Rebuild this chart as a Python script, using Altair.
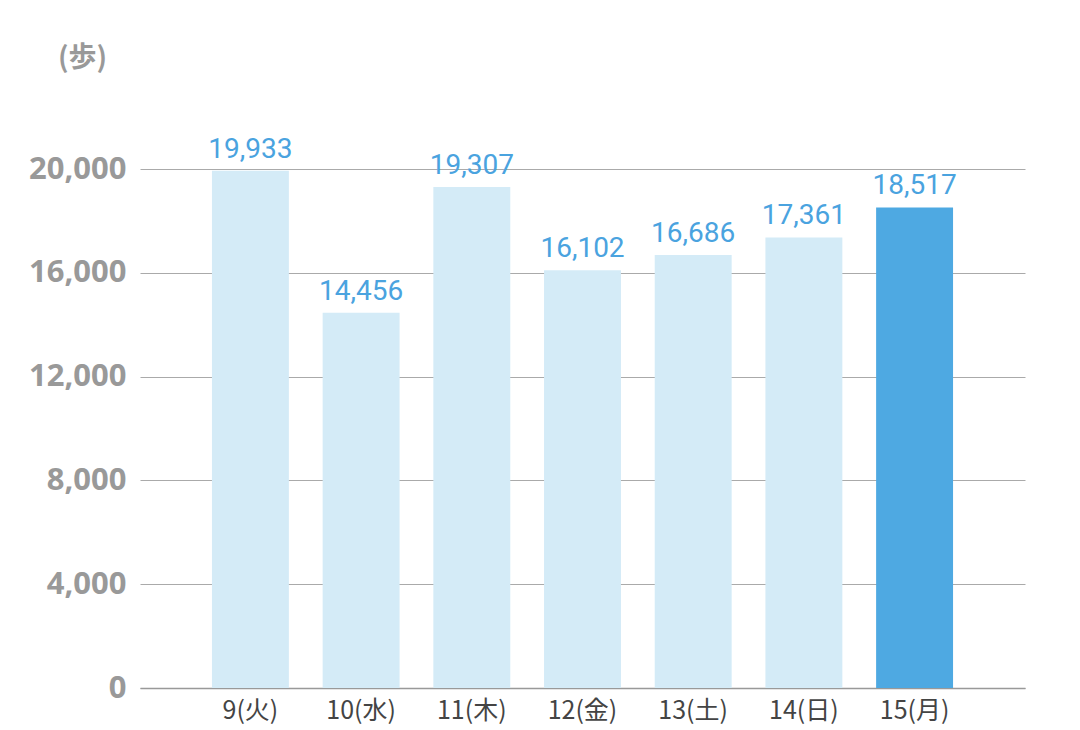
import altair as alt
import pandas as pd

days = ["9(火)", "10(水)", "11(木)", "12(金)", "13(土)", "14(日)", "15(月)"]
steps = [19933, 14456, 19307, 16102, 16686, 17361, 18517]
highlight = [False, False, False, False, False, False, True]

df = pd.DataFrame({"day": days, "steps": steps, "hl": highlight})
df["label"] = df["steps"].map(lambda v: f"{v:,}")

x = alt.X("day:N", sort=days, title=None,
          scale=alt.Scale(paddingInner=0.305, paddingOuter=0.65),
          axis=alt.Axis(labelAngle=0, labelFont="Noto Sans CJK JP", labelFontSize=25,
                        labelColor="#444444", labelPadding=10, ticks=False,
                        domainColor="#999999", domainWidth=1.5))
y = alt.Y("steps:Q", scale=alt.Scale(domain=[0, 20000]),
          axis=alt.Axis(values=[0, 4000, 8000, 12000, 16000, 20000], format=",.0f",
                        labelFont="Noto Sans", labelFontWeight="bold", labelFontSize=31,
                        labelColor="#999999", labelPadding=14, ticks=False, domain=False,
                        gridColor="#aaaaaa", gridWidth=1,
                        title="(歩)", titleAngle=0, titleX=-58, titleY=-111,
                        titleFont="Noto Sans CJK JP", titleFontSize=28, titleFontWeight="bold",
                        titleColor="#999999", titleAlign="center", titleBaseline="middle"))

bars = alt.Chart(df).mark_bar().encode(
    x=x, y=y,
    color=alt.Color("hl:N", scale=alt.Scale(domain=[False, True], range=["#d4ebf7", "#4ea9e2"]),
                    legend=None),
)
labels = alt.Chart(df).mark_text(baseline="bottom", dy=-7, font="Roboto", fontSize=28,
                                 color="#4aa3df").encode(
    x=alt.X("day:N", sort=days), y=alt.Y("steps:Q"), text="label:N")

chart = (bars + labels).properties(
    width=885, height=519,
    autosize=alt.AutoSizeParams(type="none"),
    padding={"left": 132, "top": 161, "right": 40, "bottom": 40},
).configure_view(stroke=None)

chart.save("out.html", embed_options={"renderer": "svg", "actions": False})
